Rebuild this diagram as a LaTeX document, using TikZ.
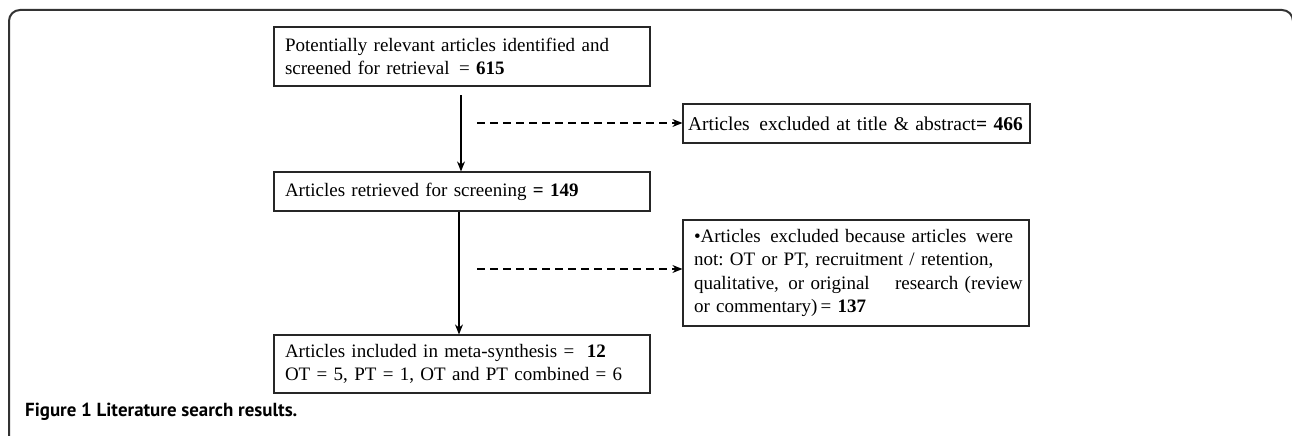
\documentclass[tikz,border=0pt]{standalone}
\usepackage{fontspec}
\setmainfont{Liberation Serif}
\newfontfamily\capfont{PT Sans}
\usetikzlibrary{arrows.meta}
\frenchspacing
\begin{document}
\begin{tikzpicture}[x=1pt,y=-1pt,
  box/.style={draw=black!85, line width=1.2pt, inner xsep=11pt, inner ysep=0pt,
     align=left, anchor=center, font=\fontsize{19}{23.5}\selectfont},
  solidarrow/.style={line width=1.3pt, -{Stealth[length=10pt,width=8pt]}},
  dasharrow/.style={line width=1.3pt, dash pattern=on 8pt off 5pt, -{Stealth[length=10pt,width=8pt]}}]
\useasboundingbox (0,0) rectangle (1292,436);
\fill[white] (0,0) rectangle (1292,436);
\draw[line width=2pt, black!80, rounded corners=11pt] (9,445) -- (9,10) -- (1293,10) -- (1293,40);

\node[box, minimum width=376pt, minimum height=59pt, text width=354pt] (b1) at (462,56.5)
  {\mbox{Potentially relevant articles identified and}\\\mbox{screened for retrieval \,= \textbf{615}}};
\node[box, minimum width=376pt, minimum height=39pt, text width=354pt] (b2) at (462,191.5)
  {\mbox{Articles retrieved for screening \textbf{= 149}}};
\node[box, minimum width=376pt, minimum height=58pt, text width=354pt] (b3) at (462,364)
  {\mbox{Articles included in meta-synthesis = \ \textbf{12}}\\\mbox{OT = 5, PT = 1, OT and PT combined = 6}};
\node[box, inner xsep=5pt, minimum width=347pt, minimum height=39pt, text width=337pt,
      font=\fontsize{19.5}{23.5}\selectfont] (b4) at (856.5,123.5)
  {\mbox{Articles \,excluded at title \& abstract\textbf{= 466}}};
\node[box, minimum width=346pt, minimum height=106pt, text width=324pt] (b5) at (856,273)
  {\mbox{•Articles \,excluded because articles \,were}\\\mbox{not: OT or PT, recruitment / retention,}\\\mbox{qualitative, \,or original \quad research (review}\\\mbox{or commentary)\,= \textbf{137}}};

\coordinate (a1) at (461,95);
\coordinate (d1) at (477,123);
\coordinate (d2) at (477,269);
\draw[solidarrow] (a1) -- (a1 |- b2.north);
\draw[solidarrow] (b2.south -| 459,0) -- (b3.north -| 459,0);
\draw[dasharrow] (d1) -- (d1 -| b4.west);
\draw[dasharrow] (d2) -- (d2 -| b5.west);

\node[anchor=base west, inner sep=0pt, font=\capfont\bfseries\fontsize{18.9}{20}\selectfont] (cap) at (25,416)
  {Figure 1 Literature search results.};
\end{tikzpicture}
\end{document}
